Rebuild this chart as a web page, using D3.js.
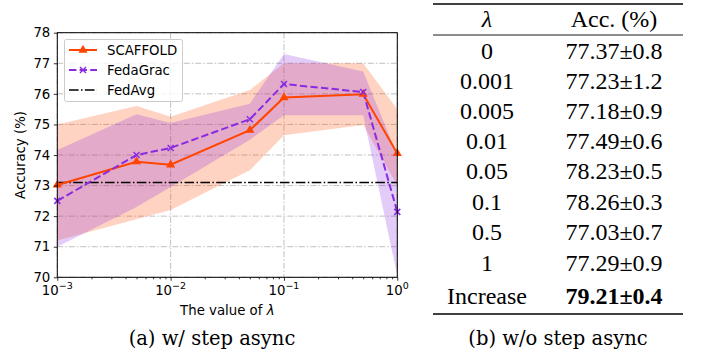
<!DOCTYPE html>
<html>
<head>
<meta charset="utf-8">
<script src="https://cdn.jsdelivr.net/npm/d3@7"></script>
<style>
  html, body { margin: 0; padding: 0; background: #ffffff; }
  svg { display: block; }
</style>
</head>
<body>
<script>
// ---------------- Data ----------------
const lambdas = [0.001, 0.005, 0.01, 0.05, 0.1, 0.5, 1];
const scaffoldMean  = [73.02, 73.78, 73.68, 74.81, 75.88, 75.99, 74.05];
const scaffoldUpper = [75.00, 75.60, 75.25, 76.13, 77.00, 77.00, 75.50];
const scaffoldLower = [71.20, 71.90, 72.20, 73.50, 74.65, 74.98, 73.00];
const fedagracMean  = [72.50, 74.00, 74.23, 75.17, 76.32, 76.06, 72.14];
const fedagracUpper = [74.16, 75.33, 75.05, 75.68, 77.30, 76.73, 74.00];
const fedagracLower = [71.00, 72.30, 72.95, 74.50, 75.30, 75.30, 70.05];
const fedavgValue = 73.1;
const seriesNames = ["SCAFFOLD", "FedaGrac", "FedAvg"];
const yTicks = [70, 71, 72, 73, 74, 75, 76, 77, 78];
const xTicks = [0.001, 0.01, 0.1, 1];

const tableLambda = ["0", "0.001", "0.005", "0.01", "0.05", "0.1", "0.5", "1", "Increase"];
const tableAccMean = [77.37, 77.23, 77.18, 77.49, 78.23, 78.26, 77.03, 77.29, 79.21];
const tableAccStd  = [0.8, 1.2, 0.9, 0.6, 0.5, 0.3, 0.7, 0.9, 0.4];
const tableHeader = ["λ", "Acc. (%)"];
const captionA = "(a) w/ step async";
const captionB = "(b) w/o step async";

// ---------------- Setup ----------------
const W = 704, H = 362;
const svg = d3.select("body").append("svg").attr("width", W).attr("height", H);

const plot = { left: 57.3, right: 397.3, top: 32.7, bottom: 277.3 };
const x = d3.scaleLog().domain([1e-3, 1]).range([plot.left, plot.right]);
const y = d3.scaleLinear().domain([70, 78]).range([plot.bottom, plot.top]);

const sans = "'DejaVu Sans', sans-serif";
const serif = "'Liberation Serif', 'Times New Roman', serif";
const capSerif = "'DejaVu Serif', serif";
const cOrange = "#ff4500";
const cPurple = "#8a2be2";

svg.append("defs").append("clipPath").attr("id", "clip")
  .append("rect").attr("x", plot.left).attr("y", plot.top)
  .attr("width", plot.right - plot.left).attr("height", plot.bottom - plot.top);

// Grid
const grid = svg.append("g").attr("stroke", "#b0b0b0").attr("stroke-width", 0.8)
  .attr("stroke-dasharray", "6,2,1.5,2");
yTicks.forEach(v => grid.append("line")
  .attr("x1", plot.left).attr("x2", plot.right).attr("y1", y(v)).attr("y2", y(v)));
xTicks.forEach(v => grid.append("line")
  .attr("x1", x(v)).attr("x2", x(v)).attr("y1", plot.top).attr("y2", plot.bottom));

const g = svg.append("g").attr("clip-path", "url(#clip)");

const scafData = lambdas.map((l, i) => ({ l, m: scaffoldMean[i], lo: scaffoldLower[i], hi: scaffoldUpper[i] }));
const fedaData = lambdas.map((l, i) => ({ l, m: fedagracMean[i], lo: fedagracLower[i], hi: fedagracUpper[i] }));

const area = d3.area().x(d => x(d.l)).y0(d => y(d.lo)).y1(d => y(d.hi));
const line = d3.line().x(d => x(d.l)).y(d => y(d.m));

g.append("path").datum(scafData).attr("d", area).attr("fill", cOrange).attr("fill-opacity", 0.24);
g.append("path").datum(fedaData).attr("d", area).attr("fill", cPurple).attr("fill-opacity", 0.24);

// FedAvg
g.append("line").attr("x1", plot.left).attr("x2", plot.right)
  .attr("y1", y(fedavgValue)).attr("y2", y(fedavgValue))
  .attr("stroke", "#000").attr("stroke-width", 1.5).attr("stroke-dasharray", "9.6,2.4,1.5,2.4");

// SCAFFOLD
g.append("path").datum(scafData).attr("d", line).attr("fill", "none")
  .attr("stroke", cOrange).attr("stroke-width", 2);
// FedaGrac
g.append("path").datum(fedaData).attr("d", line).attr("fill", "none")
  .attr("stroke", cPurple).attr("stroke-width", 2).attr("stroke-dasharray", "7.4,3.2");

// markers
const tri = d3.symbol(d3.symbolTriangle).size(36);
svg.append("g").selectAll("path").data(scafData).join("path")
  .attr("d", tri).attr("transform", d => `translate(${x(d.l)},${y(d.m)})`)
  .attr("fill", cOrange);
const xm = svg.append("g").attr("stroke", cPurple).attr("stroke-width", 1.5);
fedaData.forEach(d => {
  const cx = x(d.l), cy = y(d.m), r = 3;
  xm.append("line").attr("x1", cx - r).attr("x2", cx + r).attr("y1", cy - r).attr("y2", cy + r);
  xm.append("line").attr("x1", cx - r).attr("x2", cx + r).attr("y1", cy + r).attr("y2", cy - r);
});

// Axes
const xAxis = svg.append("g").attr("transform", `translate(0,${plot.bottom})`)
  .call(d3.axisBottom(x).tickValues(xTicks).tickSize(3.5).tickFormat(""));
const minorVals = [];
[0.001, 0.01, 0.1].forEach(b => { for (let k = 2; k <= 9; k++) minorVals.push(b * k); });
const xMinor = svg.append("g").attr("transform", `translate(0,${plot.bottom})`)
  .call(d3.axisBottom(x).tickValues(minorVals).tickSize(2).tickFormat(""));
const yAxis = svg.append("g").attr("transform", `translate(${plot.left},0)`)
  .call(d3.axisLeft(y).tickValues(yTicks).tickSize(3.5).tickFormat(d3.format("d")).tickPadding(3.5));
[xAxis, xMinor, yAxis].forEach(a => {
  a.select(".domain").remove();
  a.selectAll(".tick line").attr("stroke", "#000").attr("stroke-width", 0.8);
});
yAxis.selectAll("text").attr("font-family", sans).attr("font-size", 13.3).attr("fill", "#000");

// x tick labels with superscripts
xTicks.forEach(v => {
  const e = Math.round(Math.log10(v));
  const t = svg.append("text").attr("x", x(v)).attr("y", 295)
    .attr("text-anchor", "middle").attr("font-family", sans).attr("font-size", 13.3).attr("fill", "#000");
  t.append("tspan").text("10");
  t.append("tspan").attr("dy", -6).attr("font-size", 9.5).text(e === 0 ? "0" : "−" + Math.abs(e));
});

// frame
svg.append("rect").attr("x", plot.left).attr("y", plot.top)
  .attr("width", plot.right - plot.left).attr("height", plot.bottom - plot.top)
  .attr("fill", "none").attr("stroke", "#000").attr("stroke-width", 1);

// Axis labels
const xl = svg.append("text").attr("x", (plot.left + plot.right) / 2).attr("y", 315)
  .attr("text-anchor", "middle").attr("font-family", sans).attr("font-size", 13.3).attr("fill", "#000");
xl.append("tspan").text("The value of ");
xl.append("tspan").attr("font-style", "italic").text("λ");
svg.append("text").attr("transform", `translate(25,${(plot.top + plot.bottom) / 2}) rotate(-90)`)
  .attr("text-anchor", "middle").attr("font-family", sans).attr("font-size", 13.3).attr("fill", "#000")
  .text("Accuracy (%)");

// Legend
const lg = svg.append("g");
lg.append("rect").attr("x", 64.5).attr("y", 39.5).attr("width", 118).attr("height", 62).attr("rx", 2)
  .attr("fill", "#fff").attr("fill-opacity", 0.8).attr("stroke", "#cccccc").attr("stroke-width", 1);
const legY = [50, 70, 90];
const lx1 = 69, lx2 = 97;
lg.append("line").attr("x1", lx1).attr("x2", lx2).attr("y1", legY[0]).attr("y2", legY[0])
  .attr("stroke", cOrange).attr("stroke-width", 2);
lg.append("path").attr("d", tri).attr("transform", `translate(${(lx1 + lx2) / 2},${legY[0]})`).attr("fill", cOrange);
lg.append("line").attr("x1", lx1).attr("x2", lx2).attr("y1", legY[1]).attr("y2", legY[1])
  .attr("stroke", cPurple).attr("stroke-width", 2).attr("stroke-dasharray", "7.4,3.2");
{
  const cx = (lx1 + lx2) / 2, cy = legY[1], r = 3;
  lg.append("line").attr("x1", cx - r).attr("x2", cx + r).attr("y1", cy - r).attr("y2", cy + r).attr("stroke", cPurple).attr("stroke-width", 1.5);
  lg.append("line").attr("x1", cx - r).attr("x2", cx + r).attr("y1", cy + r).attr("y2", cy - r).attr("stroke", cPurple).attr("stroke-width", 1.5);
}
lg.append("line").attr("x1", lx1).attr("x2", lx2).attr("y1", legY[2]).attr("y2", legY[2])
  .attr("stroke", "#000").attr("stroke-width", 1.5).attr("stroke-dasharray", "9.6,2.4,1.5,2.4");
seriesNames.forEach((n, i) => lg.append("text").attr("x", 107).attr("y", legY[i]).attr("dy", "0.36em")
  .attr("font-family", sans).attr("font-size", 13.3).attr("fill", "#000").text(n));

// Caption (a)
svg.append("text").attr("x", 212).attr("y", 345).attr("text-anchor", "middle")
  .attr("font-family", capSerif).attr("font-size", 19.5).attr("fill", "#000").text(captionA);

// ---------------- Table ----------------
const tL = 433, tR = 683, c1 = 487, c2 = 614;
const tfs = 24;
svg.append("line").attr("x1", tL).attr("x2", tR).attr("y1", 4).attr("y2", 4).attr("stroke", "#000").attr("stroke-width", 1.4);
svg.append("line").attr("x1", tL).attr("x2", tR).attr("y1", 35).attr("y2", 35).attr("stroke", "#000").attr("stroke-width", 0.9);
svg.append("line").attr("x1", tL).attr("x2", tR).attr("y1", 314).attr("y2", 314).attr("stroke", "#000").attr("stroke-width", 1.4);
svg.append("text").attr("x", c1).attr("y", 27).attr("text-anchor", "middle").attr("font-family", serif)
  .attr("font-size", tfs).attr("font-style", "italic").attr("fill", "#000").text(tableHeader[0]);
svg.append("text").attr("x", c2).attr("y", 27).attr("text-anchor", "middle").attr("font-family", serif)
  .attr("font-size", tfs).attr("fill", "#000").text(tableHeader[1]);
const rowBase = [59, 89, 119, 149, 179, 210, 240, 271, 304];
tableLambda.forEach((lab, i) => {
  const bold = i === tableLambda.length - 1;
  svg.append("text").attr("x", c1).attr("y", rowBase[i]).attr("text-anchor", "middle").attr("font-family", serif)
    .attr("font-size", tfs).attr("fill", "#000").text(lab);
  svg.append("text").attr("x", c2).attr("y", rowBase[i]).attr("text-anchor", "middle").attr("font-family", serif)
    .attr("font-size", tfs).attr("font-weight", bold ? "bold" : "normal").attr("fill", "#000")
    .text(tableAccMean[i].toFixed(2) + "±" + tableAccStd[i].toFixed(1));
});
svg.append("text").attr("x", 558).attr("y", 345).attr("text-anchor", "middle")
  .attr("font-family", capSerif).attr("font-size", 19.5).attr("fill", "#000").text(captionB);
</script>
</body>
</html>
